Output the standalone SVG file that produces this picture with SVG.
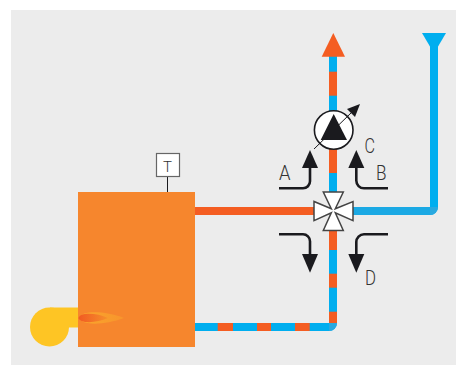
<svg xmlns="http://www.w3.org/2000/svg" width="456" height="365" viewBox="0 0 456 365">
<style>
.lb{font-family:"Roboto","Liberation Sans",sans-serif;font-size:20.5px;font-weight:300;fill:#333}
.cur{fill:none;stroke:#1a1a1e;stroke-width:2.6}
.hd{fill:#1a1a1e}
.o{fill:#f45d22}
.b{fill:#00aeef}
.v{fill:#fff;stroke:#444;stroke-width:1.5;stroke-linejoin:miter}
</style>
<defs>
<linearGradient id="f1" x1="0" x2="1" y1="0" y2="0"><stop offset="0" stop-color="#f9a62c"/><stop offset="1" stop-color="#f8952c"/></linearGradient>
<linearGradient id="f2" x1="0" x2="1" y1="0" y2="0"><stop offset="0" stop-color="#f15a22"/><stop offset="1" stop-color="#f6902c"/></linearGradient>
</defs>
<rect width="456" height="365" fill="#fff"/>
<rect x="11" y="10" width="445" height="355" fill="#ececec"/>
<g id="connectors">
<rect class="o" x="195" y="207" width="120" height="8"/>
<path d="M353 207H430V215H353z" fill="#1ba9e4"/>
<path d="M430 33h8V207a8 8 0 0 1-8 8z" fill="#00aeef"/>
<path d="M430 207h8a8 8 0 0 1-8 8z" fill="#29a9e0"/>
<polygon class="b" points="422,33 446,33 436,50 432,50"/>
<rect class="b" x="329" y="56" width="8" height="75"/>
<rect class="o" x="329" y="71.7" width="8" height="24"/>
<rect class="o" x="329" y="149" width="8" height="24"/>
<rect class="b" x="329" y="173" width="8" height="20"/>
<polygon class="o" points="333.3,33 345,56.7 321.7,56.7"/>
<path d="M329 230H337V323a8 8 0 0 1-8 8H195V323H329z" fill="#00aeef"/>
<path d="M329 323h8a8 8 0 0 1-8 8z" fill="#29a9e0"/>
<rect class="o" x="329" y="230" width="8" height="20"/>
<rect class="o" x="329" y="273.7" width="8" height="14"/>
<rect class="o" x="329" y="311.7" width="8" height="11.3"/>
<rect class="o" x="217.7" y="323" width="15.3" height="8"/>
<rect class="o" x="257" y="323" width="14" height="8"/>
<rect class="o" x="295" y="323" width="14.7" height="8"/>
</g>
<g id="fan">
<circle cx="49.500" cy="327" r="19.500" fill="#fec524"/>
<rect x="50" y="307.500" width="29" height="20" fill="#fec524"/>
</g>
<g id="boiler">
<rect x="78" y="192" width="117" height="155" fill="#f6862d"/>
<path d="M79 318C82 310 105 311 124 318C105 325 82 326 79 318z" fill="url(#f1)"/>
<path d="M78.500 318C80 312 97 313 108 318C97 323 80 324 78.500 318z" fill="url(#f2)"/>
</g>
<g id="sensor">
<line x1="167.500" y1="176" x2="167.500" y2="192" stroke="#1a1a1e" stroke-width="1"/>
<rect x="156.500" y="153.500" width="23" height="23" fill="#fff" stroke="#666" stroke-width="1.200"/>
<text class="lb" x="167.500" y="171.500" text-anchor="middle" style="font-size:15px">T</text>
</g>
<g id="pump">
<circle cx="333.700" cy="130" r="19.300" fill="#fff" stroke="#1a1a1e" stroke-width="1.600"/>
<polygon class="hd" points="333.700,114 347,140 320.700,140"/>
<line x1="314" y1="149" x2="352" y2="112" stroke="#1a1a1e" stroke-width="1"/>
<polygon class="hd" points="360,104 355,117 347,109"/>
</g>
<g id="valve">
<polygon class="v" points="323.300,192 343.300,192 335.300,208.800 353,201.500 353,220.700 335.300,212.800 343.300,230.500 323.300,230.500 331.300,212.800 314,220.700 314,201.500 331.300,208.800"/>
</g>
<g id="flow-arrows">
<path class="cur" d="M279 188.300H303a7 7 0 0 0 7-7V165"/>
<polygon class="hd" points="310,150 318,168 302,168"/>
<path class="cur" d="M388 188.300H364a7.700 7.700 0 0 1-7.700-7.700V165"/>
<polygon class="hd" points="356.300,150 364.300,168 348.300,168"/>
<path class="cur" d="M279 234.300H303a7 7 0 0 1 7 7V256"/>
<polygon class="hd" points="310,272.700 318,254 302,254"/>
<path class="cur" d="M388 234.300H364a7.700 7.700 0 0 0-7.700 7.700V256"/>
<polygon class="hd" points="356.300,272.700 364.300,254 348.300,254"/>
</g>
<g id="labels">
<text class="lb" x="279" y="180" textLength="11.500" lengthAdjust="spacingAndGlyphs">A</text>
<text class="lb" x="376" y="180" textLength="10.500" lengthAdjust="spacingAndGlyphs">B</text>
<text class="lb" x="364.500" y="153" textLength="10.500" lengthAdjust="spacingAndGlyphs">C</text>
<text class="lb" x="365" y="285" textLength="11" lengthAdjust="spacingAndGlyphs">D</text>
</g>
</svg>
